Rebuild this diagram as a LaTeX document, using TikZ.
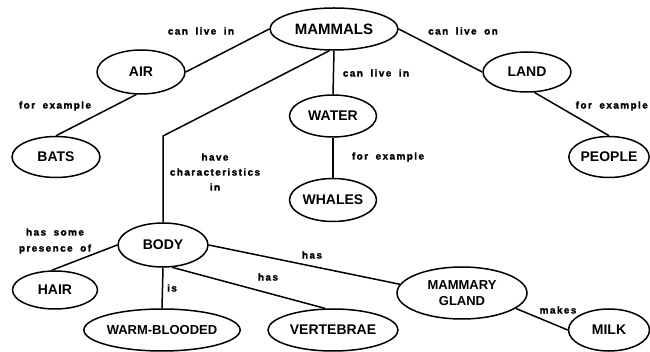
\documentclass[tikz,border=0pt]{standalone}
\usepackage{fontspec}
\setmainfont{Liberation Sans}
\newfontfamily\labfont[LetterSpace=14,WordSpace=1.8,FakeBold=1.6]{Liberation Sans}
\usetikzlibrary{shapes.geometric}
\begin{document}
\begin{tikzpicture}[x=1pt,y=-1pt,
  ell/.style={draw, ellipse, line width=1.5pt, inner sep=0pt, align=center,
    font=\bfseries\fontsize{14}{16}\selectfont},
  lab/.style={inner sep=0pt, align=center,
    font=\labfont\bfseries\fontsize{10}{15}\selectfont},
  conn/.style={line width=1.5pt}]
\useasboundingbox[fill=white] (0,0) rectangle (650,352);
% nodes
\node[ell, minimum width=128pt, minimum height=42pt, font=\bfseries\fontsize{15}{16}\selectfont] (mam) at (334,29) {MAMMALS};
\node[ell, minimum width=88pt, minimum height=44pt] (air) at (141,72) {AIR};
\node[ell, minimum width=88pt, minimum height=41pt] (bats) at (56,157) {BATS};
\node[ell, minimum width=87pt, minimum height=42pt] (water) at (333,116) {WATER};
\node[ell, minimum width=88pt, minimum height=40pt] (land) at (527,72) {LAND};
\node[ell, minimum width=79pt, minimum height=41pt] (people) at (609,157) {PEOPLE};
\node[ell, minimum width=87pt, minimum height=43pt] (whales) at (333,200) {WHALES};
\node[ell, minimum width=90pt, minimum height=44pt] (body) at (163,245) {BODY};
\node[ell, minimum width=85pt, minimum height=38pt] (hair) at (55,290) {HAIR};
\node[ell, minimum width=130pt, minimum height=42pt, font=\bfseries\fontsize{13}{15}\selectfont] (warm) at (162,330) {WARM-BLOODED};
\node[ell, minimum width=130pt, minimum height=42pt] (vert) at (333,330) {VERTEBRAE};
\node[ell, minimum width=130pt, minimum height=52pt, font=\bfseries\fontsize{13}{16}\selectfont] (mg) at (462,293) {MAMMARY\\GLAND};
\node[ell, minimum width=81pt, minimum height=42pt] (milk) at (609,330) {MILK};
% connectors
\coordinate (bend) at (163,136);
\draw[conn] (air.east) -- (mam.west);
\draw[conn] (mam.east) -- (land.west);
\draw[conn] (mam.south) -- (water.north);
\draw[conn] (water.south) -- (whales.north);
\draw[conn] (air.258) -- (bats.north);
\draw[conn] (land.-70) -- (people.north);
\draw[conn] (mam.258) -- (bend) -- (body.north);
\draw[conn] (body.west) -- (hair.100);
\draw[conn] (body.south) -- (warm.north);
\draw[conn] (body.-68) -- (vert.110);
\draw[conn] (body.east) -- (mg.172);
\draw[conn] (mg.-16) -- (milk.west);
% labels
\node[lab] (l1) at (201,31) {can live in};
\node[lab] (l2) at (463,31) {can live on};
\node[lab] (l3) at (376,73) {can live in};
\node[lab] (l4) at (388,157) {for example};
\node[lab] (l5) at (55,106) {for example};
\node[lab, anchor=east] (l6) at (648,106) {for example};
\node[lab] (l7) at (215,172) {have\\characteristics\\in};
\node[lab, font=\labfont\bfseries\fontsize{10}{16}\selectfont] (l8) at (55,241) {has some\\presence of};
\node[lab] (l9) at (172,288) {is};
\node[lab] (l10) at (268,277) {has};
\node[lab] (l11) at (312,255) {has};
\node[lab] (l12) at (558,310) {makes};
\end{tikzpicture}
\end{document}
